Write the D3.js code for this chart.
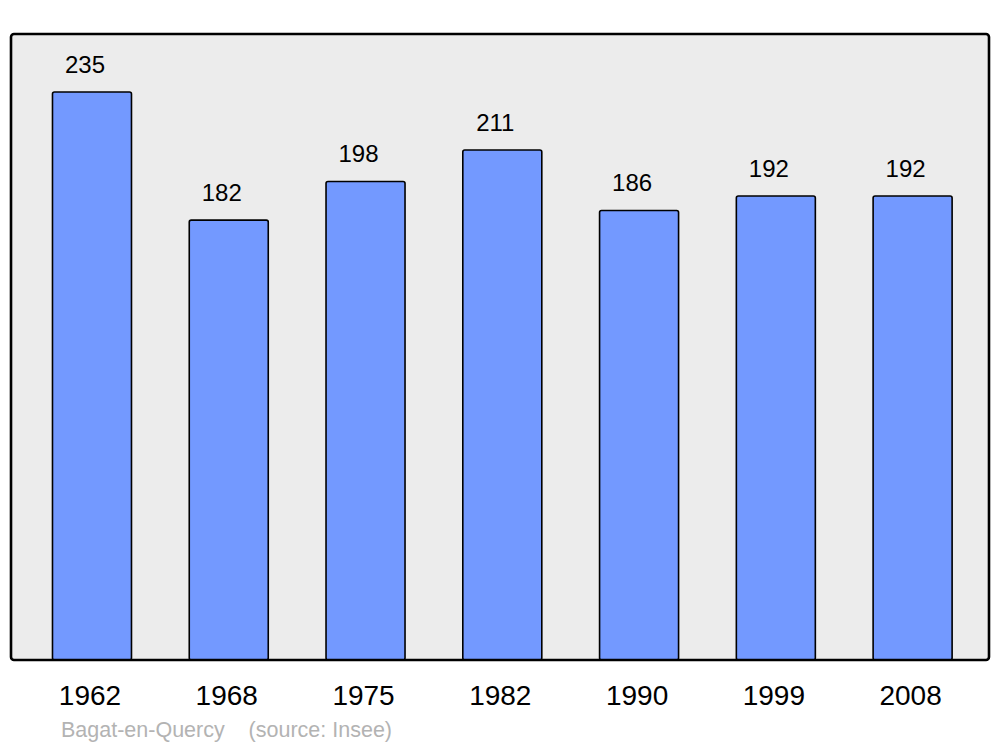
<!DOCTYPE html>
<html>
<head>
<meta charset="utf-8">
<script src="https://cdn.jsdelivr.net/npm/d3@7"></script>
<style>
  body { margin: 0; background: #fff; }
  text { font-family: "Liberation Sans", Arial, sans-serif; }
</style>
</head>
<body>
<div id="chart"></div>
<script>
// population data
var years = ["1962", "1968", "1975", "1982", "1990", "1999", "2008"];
var population = [235, 182, 198, 211, 186, 192, 192];
var commune = "Bagat-en-Quercy";
var source = "(source: Insee)";

var width = 1000, height = 747;
var frame = { left: 11, top: 34, right: 989, bottom: 660 };
var barWidth = 79;

var svg = d3.select("#chart")
    .append("svg")
    .attr("width", width)
    .attr("height", height);

var x = d3.scalePoint()
    .domain(years)
    .range([23.6, 981])
    .padding(0.5);

var y = d3.scaleLinear()
    .domain([0, 259])
    .range([frame.bottom, frame.top]);

// background frame
svg.append("rect")
    .attr("x", frame.left)
    .attr("y", frame.top)
    .attr("width", frame.right - frame.left)
    .attr("height", frame.bottom - frame.top)
    .attr("rx", 3)
    .style("fill", "#ececec")
    .style("stroke", "none");

var data = years.map(function(d, i) { return { year: d, value: population[i] }; });

svg.append("g")
    .selectAll("rect")
    .data(data)
    .enter()
    .append("rect")
    .attr("x", function(d) { return x(d.year) - barWidth / 2; })
    .attr("y", function(d) { return y(d.value); })
    .attr("width", barWidth)
    .attr("height", function(d) { return y(0) - y(d.value); })
    .attr("rx", 2)
    .style("fill", "#7399ff")
    .style("stroke", "#000")
    .style("stroke-width", 1.6);

// value labels
svg.append("g")
    .selectAll("text")
    .data(data)
    .enter()
    .append("text")
    .attr("x", function(d) { return x(d.year) - 7; })
    .attr("y", function(d) { return y(d.value) - 19; })
    .attr("text-anchor", "middle")
    .style("font-size", "24px")
    .text(function(d) { return d.value; });

// frame border on top
svg.append("rect")
    .attr("x", frame.left)
    .attr("y", frame.top)
    .attr("width", frame.right - frame.left)
    .attr("height", frame.bottom - frame.top)
    .attr("rx", 3)
    .style("fill", "none")
    .style("stroke", "#000")
    .style("stroke-width", 2.6);

// year labels
svg.append("g")
    .selectAll("text")
    .data(years)
    .enter()
    .append("text")
    .attr("x", function(d) { return x(d) - 2; })
    .attr("y", 705)
    .attr("text-anchor", "middle")
    .style("font-size", "28px")
    .text(function(d) { return d; });

svg.append("text")
    .attr("x", 61)
    .attr("y", 737)
    .style("font-size", "21.5px")
    .style("fill", "#b3b3b3")
    .attr("xml:space", "preserve")
    .style("white-space", "pre")
    .text(commune + "    " + source);
</script>
</body>
</html>
